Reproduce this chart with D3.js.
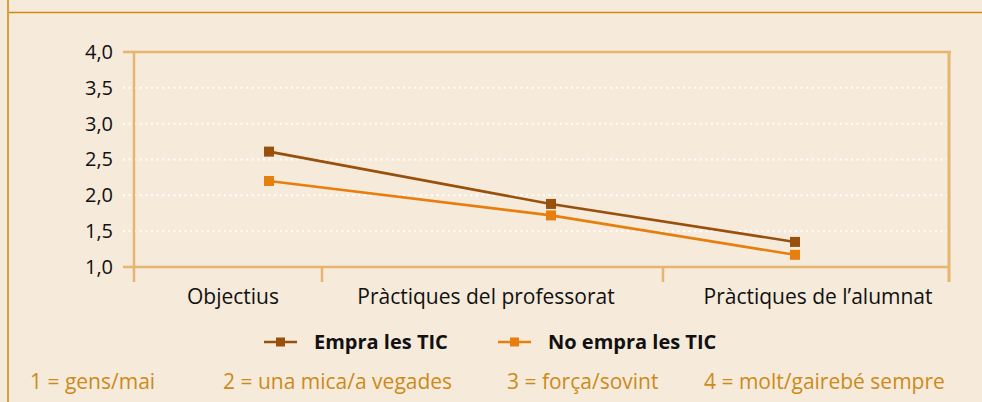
<!DOCTYPE html>
<html lang="ca">
<head>
<meta charset="utf-8">
<title>Ús de les TIC</title>
<script src="https://d3js.org/d3.v7.min.js"></script>
<style>
	body { margin: 0; background: #f6eada; }
	text { font-family: "Open Sans", sans-serif; }
</style>
</head>
<body>
<script>
// chart data
var categories = ["Objectius", "Pràctiques del professorat", "Pràctiques de l\u2019alumnat"];
var seriesNames = ["Empra les TIC", "No empra les TIC"];
var empraValues = [2.61, 1.88, 1.35];
var noEmpraValues = [2.20, 1.72, 1.17];
var yTicks = [1.0, 1.5, 2.0, 2.5, 3.0, 3.5, 4.0];
var scaleNotes = ["1 = gens/mai", "2 = una mica/a vegades", "3 = força/sovint", "4 = molt/gairebé sempre"];

var w = 982, h = 402;
var colors = ["#98500c", "#e67f0d"];
var axisColor = "#e6b570";
var noteColor = "#cc8a1a";

var svg = d3.select("body").append("svg")
	.attr("width", w)
	.attr("height", h);

// background + frame lines
svg.append("rect").attr("width", w).attr("height", h).attr("fill", "#f6eada");
svg.append("line").attr("x1", 8).attr("x2", w).attr("y1", 12.5).attr("y2", 12.5)
	.attr("stroke", "#d08a12").attr("stroke-width", 1.6);
svg.append("line").attr("x1", 8).attr("x2", 8).attr("y1", 0).attr("y2", h)
	.attr("stroke", "#d9a040").attr("stroke-width", 2);

var plotL = 134, plotR = 949, plotT = 52, plotB = 267;

var y = d3.scaleLinear().domain([1, 4]).range([plotB, plotT]);
// point positions, category edges and label centres (the original is not evenly spaced)
var xPoint = d3.scaleLinear().domain([0, 1, 2]).range([269, 551, 795]);
var xEdge = d3.scaleLinear().domain([0, 1, 2, 3]).range([plotL, 322, 663, plotR]);
var xLabel = d3.scaleLinear().domain([0, 1, 2]).range([233, 486, 818]);

// dotted gridlines
svg.selectAll(".grid")
	.data(yTicks.filter(function(d) { return d > 1 && d < 4; }))
	.enter().append("line")
	.attr("x1", plotL - 11).attr("x2", plotR - 2)
	.attr("y1", function(d) { return y(d); })
	.attr("y2", function(d) { return y(d); })
	.attr("stroke", "#ffffff").attr("stroke-width", 2)
	.attr("stroke-dasharray", "2,3.6");

// y axis
var yAxis = d3.axisLeft(y).tickValues(yTicks).tickSize(0).tickPadding(21)
	.tickFormat(function(d) { return d3.format(".1f")(d).replace(".", ","); });
var ya = svg.append("g").attr("transform", "translate(" + plotL + ",0)").call(yAxis);
ya.select(".domain").remove();
ya.selectAll("text").attr("font-size", 20).attr("fill", "#111")
	.attr("font-family", "Open Sans, sans-serif");

// frame of plot area
svg.append("line").attr("x1", plotL - 11).attr("x2", plotR + 2).attr("y1", plotT).attr("y2", plotT)
	.attr("stroke", axisColor).attr("stroke-width", 2.5);
svg.append("line").attr("x1", plotL - 11).attr("x2", plotR).attr("y1", plotB).attr("y2", plotB)
	.attr("stroke", axisColor).attr("stroke-width", 2.5);
svg.append("line").attr("x1", plotR).attr("x2", plotR).attr("y1", plotT).attr("y2", plotB + 15)
	.attr("stroke", axisColor).attr("stroke-width", 3);
svg.append("line").attr("x1", plotL).attr("x2", plotL).attr("y1", plotT).attr("y2", plotB + 15)
	.attr("stroke", axisColor).attr("stroke-width", 2.5);

// category separators
svg.selectAll(".sep")
	.data([1, 2])
	.enter().append("line")
	.attr("x1", function(d) { return xEdge(d); })
	.attr("x2", function(d) { return xEdge(d); })
	.attr("y1", plotB).attr("y2", plotB + 15)
	.attr("stroke", axisColor).attr("stroke-width", 2.5);

// category labels
svg.selectAll(".cat")
	.data(categories)
	.enter().append("text")
	.attr("x", function(d, i) { return xLabel(i); })
	.attr("y", plotB + 37)
	.attr("text-anchor", "middle")
	.attr("font-size", 21)
	.attr("fill", "#111")
	.text(function(d) { return d; });

// series lines and markers
var series = [empraValues, noEmpraValues];
var line = d3.line()
	.x(function(d, i) { return xPoint(i); })
	.y(function(d) { return y(d); });

series.forEach(function(vals, s) {
	svg.append("path")
		.datum(vals)
		.attr("d", line)
		.attr("fill", "none")
		.attr("stroke", colors[s])
		.attr("stroke-width", 2.6);
	svg.selectAll(".m" + s)
		.data(vals)
		.enter().append("rect")
		.attr("x", function(d, i) { return xPoint(i) - 5; })
		.attr("y", function(d) { return y(d) - 5; })
		.attr("width", 10).attr("height", 10)
		.attr("fill", colors[s]);
});

// legend
var legendX = [264, 498];
var leg = svg.selectAll(".leg")
	.data(seriesNames)
	.enter().append("g")
	.attr("transform", function(d, i) { return "translate(" + legendX[i] + ",342)"; });
leg.append("line").attr("x1", 0).attr("x2", 33).attr("y1", 0).attr("y2", 0)
	.attr("stroke", function(d, i) { return colors[i]; }).attr("stroke-width", 2.6);
leg.append("rect").attr("x", 12).attr("y", -4.5).attr("width", 9).attr("height", 9)
	.attr("fill", function(d, i) { return colors[i]; });
leg.append("text").attr("x", 50).attr("y", 7)
	.attr("font-size", 20).attr("font-weight", "bold").attr("fill", "#111")
	.text(function(d) { return d; });

// scale notes
var noteX = [30, 223, 507, 704];
svg.selectAll(".note")
	.data(scaleNotes)
	.enter().append("text")
	.attr("x", function(d, i) { return noteX[i]; })
	.attr("y", 389)
	.attr("font-size", 21)
	.attr("fill", noteColor)
	.text(function(d) { return d; });
</script>
</body>
</html>
